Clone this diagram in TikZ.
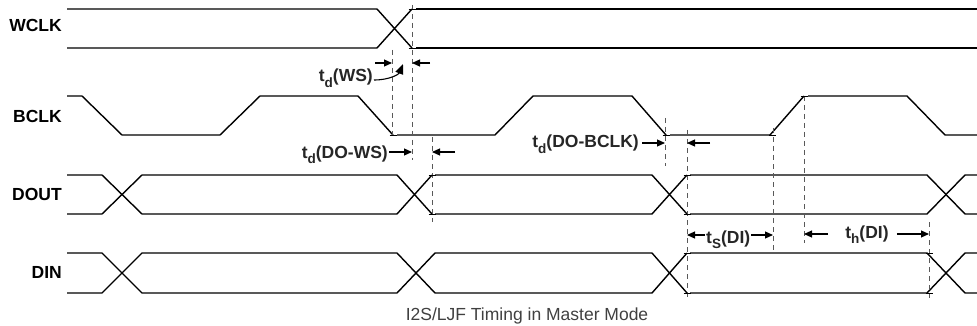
\documentclass[tikz,border=0pt]{standalone}
\usepackage{fontspec}
\setmainfont{Liberation Sans}
\usetikzlibrary{arrows.meta}
\newcommand{\mysub}[1]{t\raisebox{-5.5pt}{\fontsize{13.5}{14}\selectfont #1}}
\begin{document}
\begin{tikzpicture}[x=1pt,y=-1pt,
 wave/.style={line width=1.4pt, line join=miter},
 guide/.style={line width=0.9pt, black!65, dash pattern=on 5pt off 4pt},
 tickmark/.style={line width=0.9pt},
 dim/.style={line width=1.1pt, -{Triangle[length=8pt,width=7pt]}},
 sig/.style={font=\fontsize{17.5}{20}\selectfont\bfseries, anchor=base east, inner sep=0pt},
 tlab/.style={font=\fontsize{17.5}{20}\selectfont\bfseries, inner sep=0pt, text=black!85},
]
\useasboundingbox (0,0) rectangle (977,326);

% signal names
\node[sig] (nw) at (62,32) {WCLK};
\node[sig] (nb) at (62,123) {BCLK};
\node[sig] (nd) at (62,200) {DOUT};
\node[sig] (ni) at (62,278) {DIN};

% WCLK
\draw[wave] (67,9) -- (377,9) -- (412,48);
\draw[wave] (67,48) -- (377,48) -- (412,9);
\draw[wave] (416,9) -- (977,9);
\draw[wave] (416,48) -- (977,48);

% BCLK
\draw[wave] (67,96) -- (82,96) -- (122,135) -- (220,135) -- (260,96) -- (358,96) -- (393,135);
\draw[wave] (397,135) -- (495,135) -- (533,96) -- (632,96) -- (666,135);
\draw[wave] (670,135) -- (770,135) -- (804,96);
\draw[wave] (808,96) -- (907,96) -- (945,135) -- (977,135);

% DOUT
\draw[wave] (67,175) -- (102,175) -- (142,214) -- (397,214) -- (432,175);
\draw[wave] (67,214) -- (102,214) -- (142,175) -- (397,175) -- (432,214);
\draw[wave] (435,175) -- (652,175) -- (687,214);
\draw[wave] (435,214) -- (652,214) -- (687,175);
\draw[wave] (690,175) -- (927,175) -- (965,214) -- (977,214);
\draw[wave] (690,214) -- (927,214) -- (965,175) -- (977,175);

% DIN
\draw[wave] (67,253) -- (102,253) -- (142,293) -- (397,293) -- (435,253) -- (652,253) -- (687,293);
\draw[wave] (67,293) -- (102,293) -- (142,253) -- (397,253) -- (435,293) -- (652,293) -- (687,253);
\draw[wave] (690,253) -- (927,253) -- (965,293) -- (977,293);
\draw[wave] (690,293) -- (927,293) -- (965,253) -- (977,253);

% guides
\draw[guide] (392,50) -- (392,135);
\draw[guide] (412,5) -- (412,160);
\draw[guide] (432,137) -- (432,222);
\draw[guide] (665,118) -- (665,166);
\draw[guide] (687,130) -- (687,297);
\draw[guide] (773,128) -- (773,250);
\draw[guide] (804,96) -- (804,243);
\draw[guide] (929,222) -- (929,298);

% tick marks
\foreach \x/\y in {412/9,412/48,393/135,432/175,432/214,666/135,687/175,687/214,772/135,804/96,687/253,687/293,929/253,929/293}
  \draw[tickmark] (\x-3.5,\y) -- (\x+3.5,\y);

% t_d(WS)
\node[tlab, anchor=base east] (tdws) at (373,82) {\mysub{d}(WS)};
\coordinate (ws1) at (375,63); \coordinate (ws2) at (392,63);
\coordinate (ws3) at (430,63); \coordinate (ws4) at (412,63);
\coordinate (wsc) at (403,64);
\draw[dim] (ws1) -- (ws2);
\draw[dim] (ws3) -- (ws4);
\draw[line width=1.1pt, -{Triangle[length=10pt,width=8pt]}] ([yshift=2pt,xshift=1pt]tdws.base east) .. controls (390,80) and (399,74) .. (wsc);

% t_d(DO-WS)
\node[tlab, anchor=base east] (tdows) at (388,158) {\mysub{d}(DO-WS)};
\coordinate (dw2) at (412,152);
\coordinate (dw3) at (455,152); \coordinate (dw4) at (432,152);
\draw[dim] ([xshift=1pt]tdows.east |- dw2) -- (dw2);
\draw[dim] (dw3) -- (dw4);

% t_d(DO-BCLK)
\node[tlab, anchor=base east] (tdob) at (639,148) {\mysub{d}(DO-BCLK)};
\coordinate (db2) at (665,143);
\coordinate (db3) at (710,143); \coordinate (db4) at (687,143);
\draw[dim] ([xshift=3pt]tdob.east |- db2) -- (db2);
\draw[dim] (db3) -- (db4);

% t_S(DI)
\node[tlab, anchor=base west] (tsdi) at (706,243) {\mysub{S}(DI)};
\coordinate (ts1) at (687,235); \coordinate (ts2) at (773,235);
\draw[dim] ([xshift=-1pt]tsdi.west |- ts1) -- (ts1);
\draw[dim] ([xshift=1pt]tsdi.east |- ts2) -- (ts2);

% t_h(DI)
\node[tlab, anchor=base] (thdi) at (867,238) {\mysub{h}(DI)};
\coordinate (th1) at (804,234); \coordinate (th2) at (929,234);
\draw[dim] ([xshift=-17pt]thdi.west |- th1) -- (th1);
\draw[dim] ([xshift=8pt]thdi.east |- th2) -- (th2);

% caption
\node[font=\fontsize{17.5}{20}\selectfont, text=black!75, anchor=base, inner sep=0pt] (cap) at (527,320) {I2S/LJF Timing in Master Mode};
\end{tikzpicture}
\end{document}
